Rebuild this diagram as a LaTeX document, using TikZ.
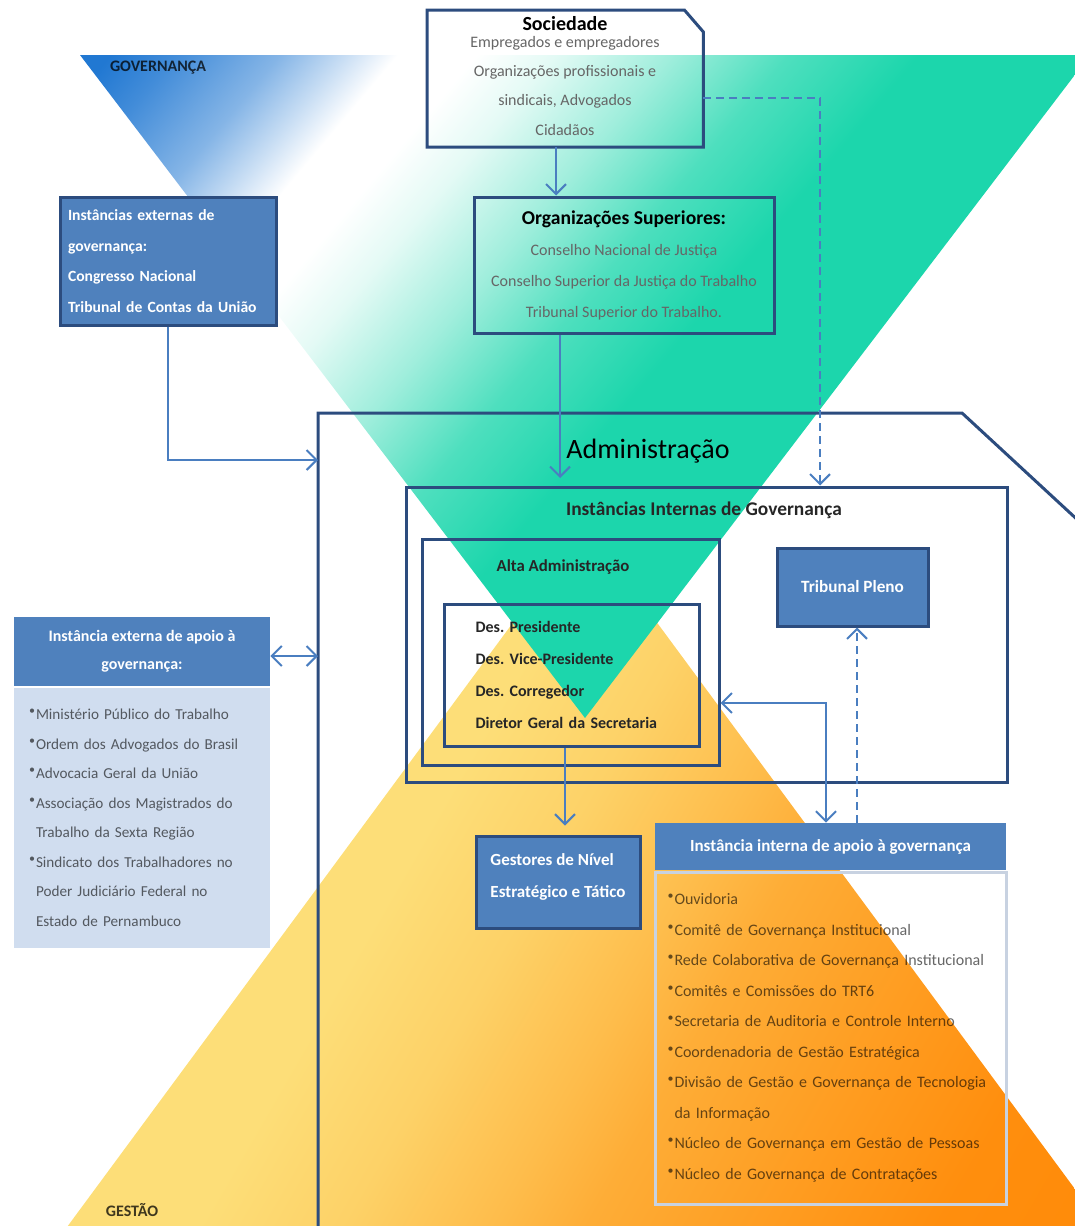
\documentclass[tikz,border=0pt]{standalone}
\usepackage{fontspec}
\setmainfont{Carlito}
\usetikzlibrary{arrows.meta}
\frenchspacing

\definecolor{govblue}{RGB}{33,120,210}
\definecolor{govteal}{RGB}{28,214,172}
\definecolor{gestyellow}{RGB}{253,222,120}
\definecolor{gestorange}{RGB}{255,138,8}
\definecolor{boxline}{RGB}{44,76,126}
\definecolor{boxfill}{RGB}{79,129,189}
\definecolor{linkblue}{RGB}{74,126,192}
\definecolor{listfill}{RGB}{208,221,239}
\definecolor{listline}{RGB}{200,210,225}

% the path box takes the shading from 25bp to 75bp
\pgfdeclarehorizontalshading{govshade}{100bp}{color(0bp)=(govblue); color(31bp)=(govblue); color(33.5bp)=(govblue!85); color(37.5bp)=(govblue!55); color(40bp)=(govblue!25); color(42bp)=(white); color(45bp)=(white); color(48bp)=(govteal!12); color(52.5bp)=(govteal!42); color(57bp)=(govteal!78); color(62bp)=(govteal); color(100bp)=(govteal)}
\pgfdeclarehorizontalshading{gestshade}{100bp}{color(0bp)=(gestyellow); color(49.5bp)=(gestyellow); color(53.5bp)=(gestyellow!85!gestorange); color(57.5bp)=(gestyellow!60!gestorange); color(60bp)=(gestyellow!42!gestorange); color(63bp)=(gestyellow!30!gestorange); color(69.5bp)=(gestyellow!5!gestorange); color(75bp)=(gestorange); color(100bp)=(gestorange)}

\newcommand{\itemdot}{\leavevmode\llap{\raisebox{2.5pt}{\fontsize{6}{6}\selectfont•}\hspace{0.5pt}}}

\begin{document}
\begin{tikzpicture}
  [x=0.5pt,y=-0.5pt,>={Straight Barb[length=5pt,width=10pt]},
   every node/.style={font=\fontsize{8}{15.5}\selectfont},
   boxframe/.style={draw=boxline,line width=1.5pt},
   bluebox/.style={boxframe,fill=boxfill,text=white,font=\fontsize{8}{16}\selectfont\bfseries},
   headbar/.style={fill=boxfill,text=white,font=\fontsize{8}{14}\selectfont\bfseries},
   boldtext/.style={text=black!85,font=\fontsize{8}{16}\selectfont\bfseries},
   listtext/.style={text=black,text opacity=0.6,font=\fontsize{8}{14.75}\selectfont},
   link/.style={draw=linkblue,line width=1pt},
   dashlink/.style={link,dash pattern=on 4pt off 2.5pt}]
  \useasboundingbox (0,0) rectangle (1075,1226);

  % background triangles
  \begin{scope}
    \clip (585,525) -- (39,1265) -- (1131,1265) -- cycle;
    \shade[shading=gestshade,transform canvas={rotate=-30}] (0,100) rectangle (1600,1100);
  \end{scope}
  \begin{scope}
    \clip (80,55) -- (1090,55) -- (585,718) -- cycle;
    \shade[shading=govshade,transform canvas={rotate=-40}] (0,-700) rectangle (1000,200);
  \end{scope}
  \node[text=black,text opacity=0.75,font=\fontsize{8}{9}\selectfont\bfseries] (gov) at (158,68) {GOVERNANÇA};
  \node[text=black,text opacity=0.75,font=\fontsize{8}{9}\selectfont\bfseries] (gest) at (132,1210) {GESTÃO};

  % Administração
  \draw[boxframe] (318,1240) -- (318,413) -- (962,413) -- (1095,536);
  \coordinate (admext) at (318,460);
  \coordinate (admapoio) at (318,656);
  \coordinate (admtop) at (560,478);
  \node[font=\fontsize{14}{16}\selectfont] (adm) at (648,451) {Administração};

  \node[minimum width=138pt,minimum height=68.5pt,align=center,text=black!60,font=\fontsize{8}{14.65}\selectfont] (soc) at (565,76)
    {{\fontsize{10}{12}\selectfont\bfseries\color{black}Sociedade}\\[-6.5pt]
     Empregados e empregadores\\ Organizações profissionais e\\ sindicais, Advogados\\ Cidadãos};
  \draw[boxframe] (427,10) -- ([xshift=-9.5pt]soc.east |- 427,10) -- ([yshift=-11pt]soc.east |- 427,10)
    -- (soc.east |- 427,147) -- (427,147) -- cycle;

  \node[boxframe,minimum width=150pt,minimum height=68pt,align=center,text=black!60] (org) at (624,265)
    {{\fontsize{9.8}{12}\selectfont\bfseries\color{black}Organizações Superiores:}\\
     Conselho Nacional de Justiça\\ Conselho Superior da Justiça do Trabalho\\ Tribunal Superior do Trabalho.};

  \node[bluebox,font=\fontsize{7.8}{15.3}\selectfont\bfseries,minimum width=108pt,minimum height=64pt,text width=100pt,align=left] (ext) at (168,261)
    {Instâncias externas de\\ governança:\\ Congresso Nacional\\ Tribunal de Contas da União};

  % instâncias internas
  \node[boxframe,minimum width=300.5pt,minimum height=147.5pt] (ii) at (706.5,634.5) {};
  \node[boldtext,font=\fontsize{9.7}{12}\selectfont\bfseries] (iititle) at (704,510) {Instâncias Internas de Governança};
  \node[boxframe,minimum width=148.5pt,minimum height=113pt] (alta) at (570.5,652) {};
  \node[boldtext,font=\fontsize{8.4}{12}\selectfont\bfseries] (altatitle) at (563,567) {Alta Administração};
  \node[boxframe,boldtext,minimum width=127.5pt,minimum height=71pt,text width=96pt,align=left] (des) at (571.5,675)
    {Des. Presidente\\ Des. Vice-Presidente\\ Des. Corregedor\\ Diretor Geral da Secretaria};
  \node[bluebox,font=\fontsize{8.6}{12}\selectfont\bfseries,minimum width=75.5pt,minimum height=39pt] (pleno) at (852.5,587) {Tribunal Pleno};

  \node[bluebox,font=\fontsize{8.5}{16}\selectfont\bfseries,minimum width=82pt,minimum height=46pt,text depth=6.5pt,align=left] (gestores) at (558,882)
    {Gestores de Nível\\ Estratégico e Tático};

  % apoio externo
  \node[headbar,minimum width=128pt,minimum height=34.5pt,align=center] (extap) at (142,651.5)
    {Instância externa de apoio à\\ governança:};
  \node[fill=listfill,listtext,font=\fontsize{7.6}{14.75}\selectfont,minimum width=128pt,minimum height=130pt,text width=106pt,align=left] (extlist) at (142,818)
    {\itemdot Ministério Público do Trabalho\\ \itemdot Ordem dos Advogados do Brasil\\
     \itemdot Advocacia Geral da União\\ \itemdot Associação dos Magistrados do\\ Trabalho da Sexta Região\\
     \itemdot Sindicato dos Trabalhadores no\\ Poder Judiciário Federal no\\ Estado de Pernambuco};

  % apoio interno
  \node[headbar,font=\fontsize{8.5}{14}\selectfont\bfseries,minimum width=175.5pt,minimum height=23.5pt] (intap) at (830.5,846.5)
    {Instância interna de apoio à governança};
  \node[draw=listline,line width=1.5pt,listtext,font=\fontsize{8}{15.25}\selectfont,minimum width=175.5pt,minimum height=166pt,text width=156pt,align=left] (intlist) at (830.5,1038)
    {\itemdot Ouvidoria\\ \itemdot Comitê de Governança Institucional\\
     \itemdot Rede Colaborativa de Governança Institucional\\ \itemdot Comitês e Comissões do TRT6\\
     \itemdot Secretaria de Auditoria e Controle Interno\\ \itemdot Coordenadoria de Gestão Estratégica\\
     \itemdot Divisão de Gestão e Governança de Tecnologia\\ da Informação\\
     \itemdot Núcleo de Governança em Gestão de Pessoas\\ \itemdot Núcleo de Governança de Contratações};

  % connectors
  \draw[link,->] (556,147) -- ([xshift=-34pt]org.north);
  \draw[dashlink,->] (703,98) -| ([xshift=56.75pt]ii.north);
  \draw[link,->] ([xshift=-32pt]org.south) -- (admtop);
  \draw[link,->] (ext.south) |- (admext);
  \draw[link,<->] ([yshift=-2.25pt]extap.east) -- (admapoio);
  \draw[link,->,shorten >=4.5pt] ([xshift=-3.25pt]des.south) -- ([xshift=3.5pt]gestores.north);
  \draw[link,<->] ([yshift=-25.5pt]alta.east) -| ([xshift=-2.25pt]intap.north);
  \draw[dashlink,->] ([xshift=13.25pt]intap.north) -- ([xshift=2.25pt]pleno.south);
\end{tikzpicture}
\end{document}
